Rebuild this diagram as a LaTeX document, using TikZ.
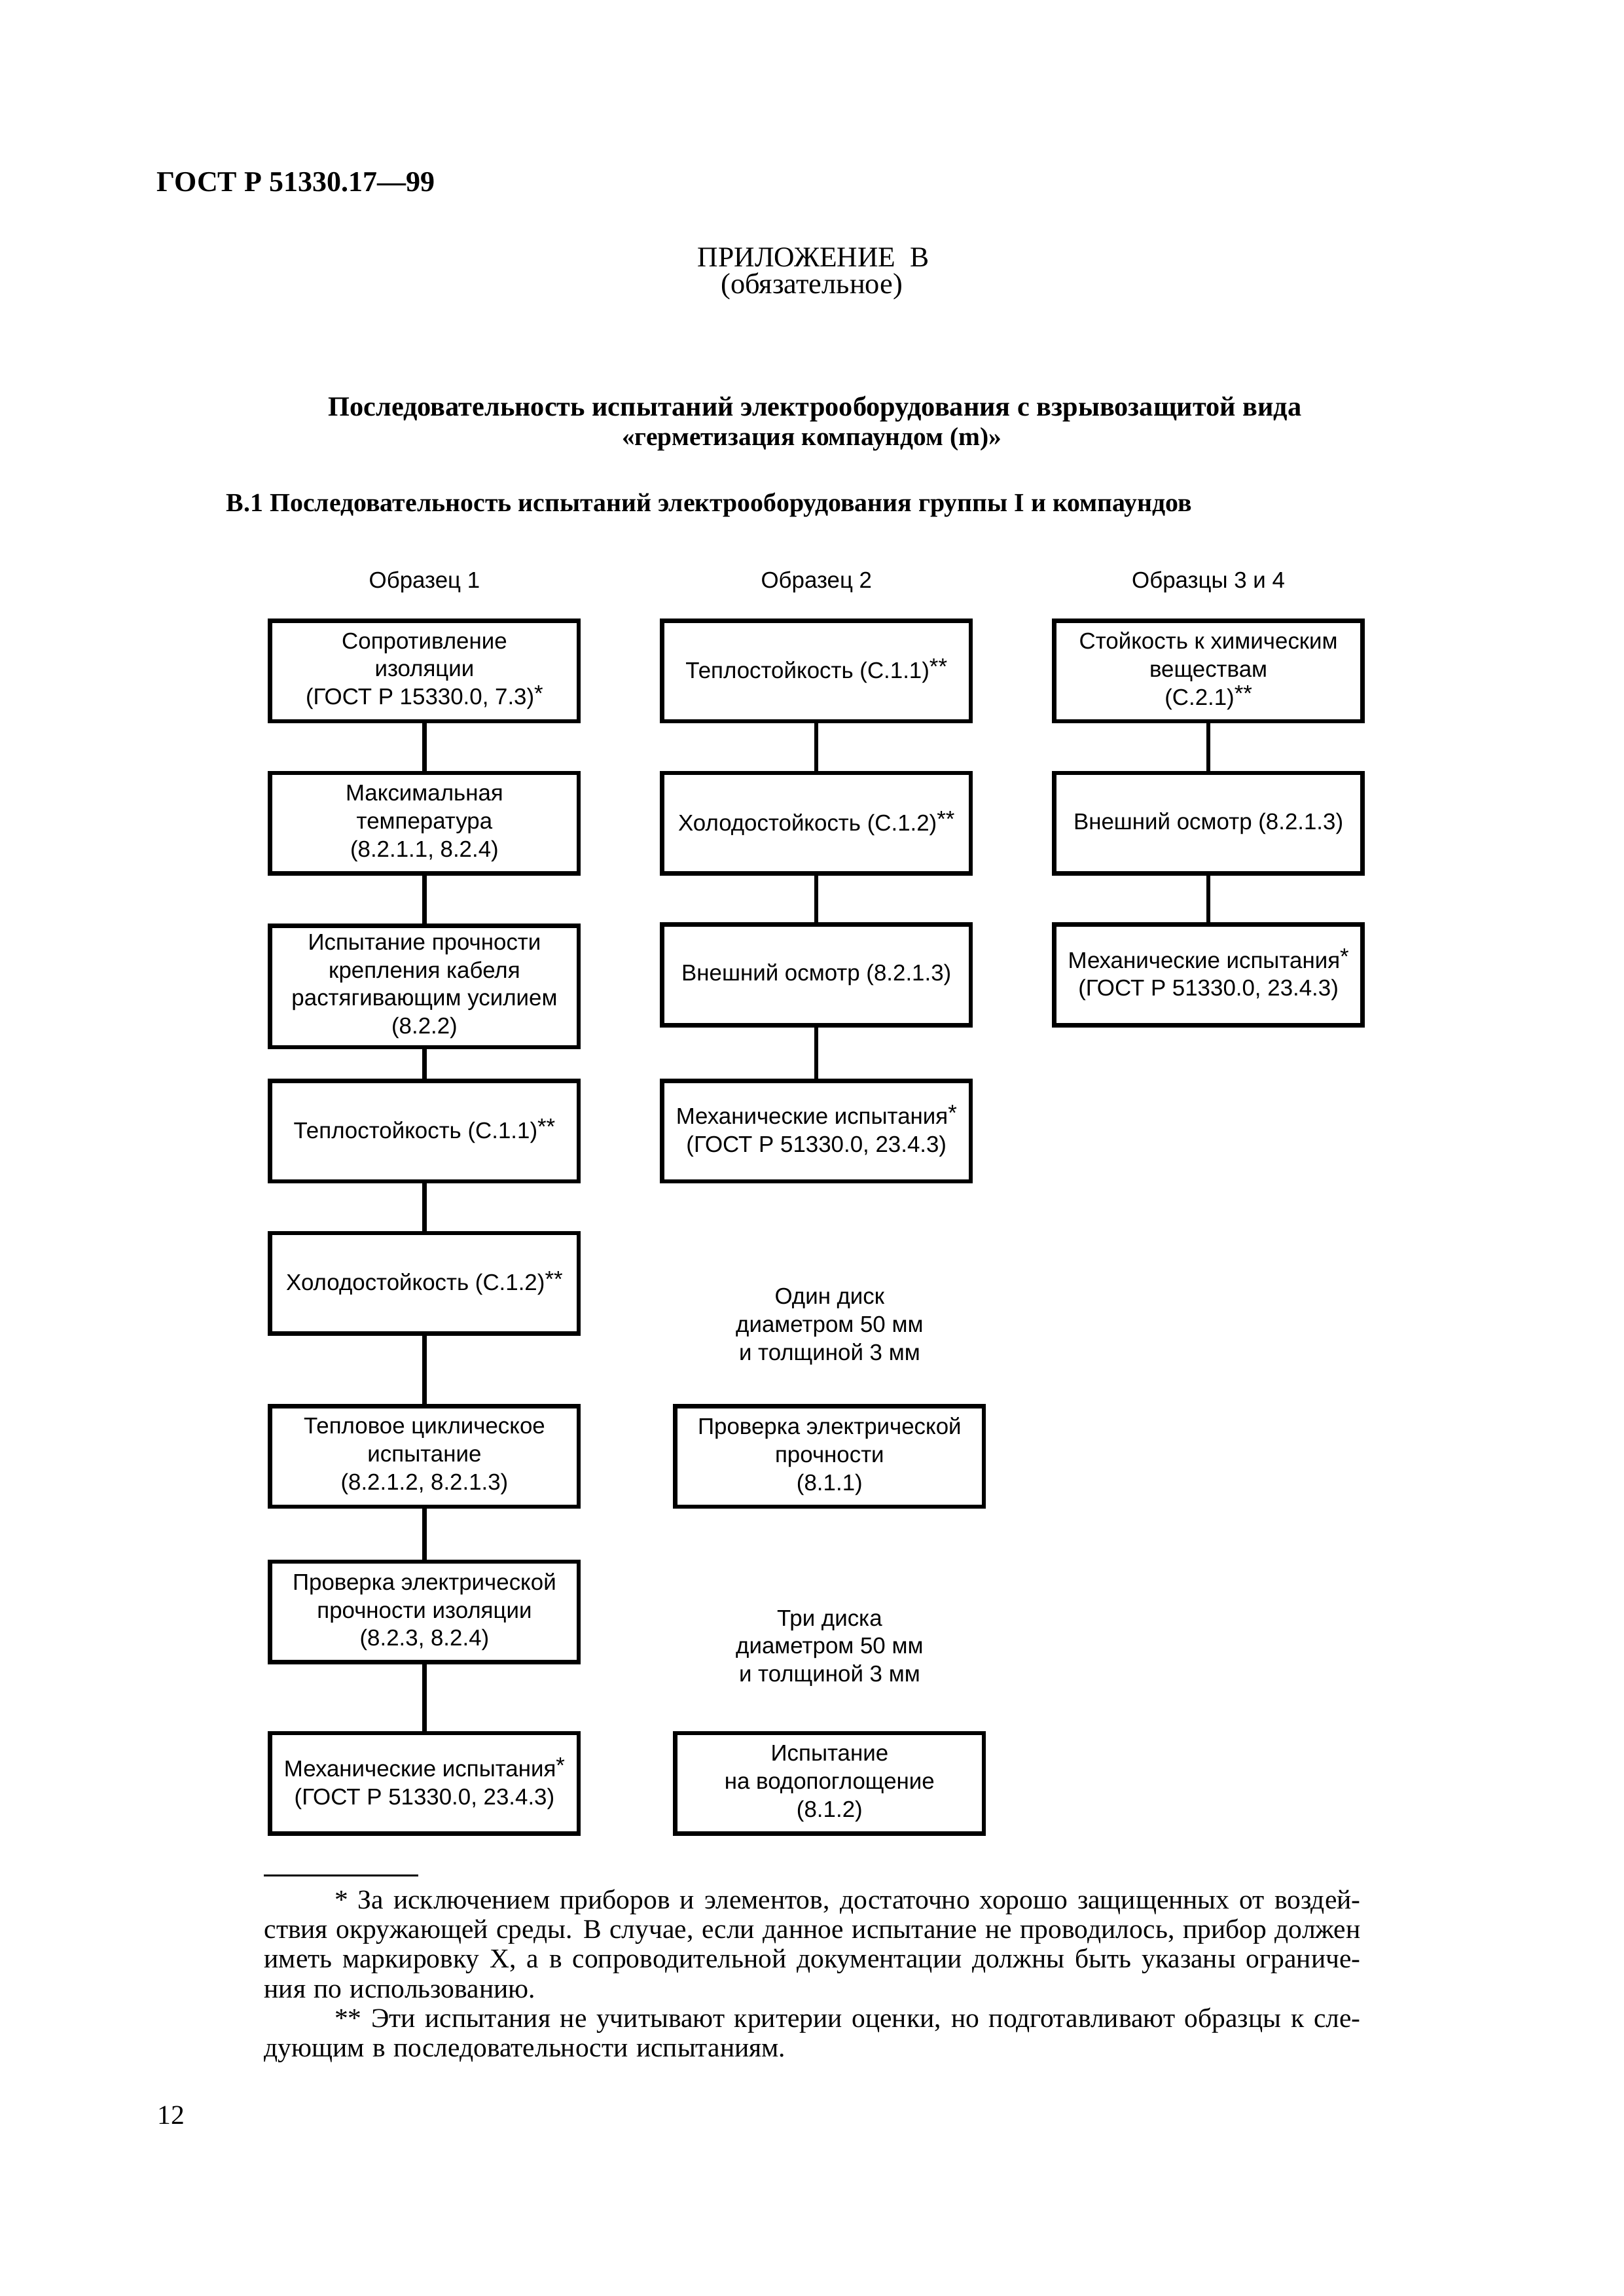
\documentclass[tikz,border=0pt]{standalone}
\usepackage{fontspec}
\setmainfont{Liberation Serif}
\newfontfamily\boxfont{Liberation Sans}
\usepackage{tikz}

\newcommand{\fnm}[1]{\raisebox{0.3ex}{#1}}

\tikzset{
  testbox/.style={draw, line width=1.6pt, minimum width=39.9mm, minimum height=13mm,
    align=center, inner sep=1pt, font=\boxfont\fontsize{8.4}{10.3}\selectfont},
  tallbox/.style={testbox, minimum height=15.7mm},
  link/.style={line width=1.5pt},
  colhead/.style={anchor=base, font=\boxfont\fontsize{8.4}{10.3}\selectfont},
  note/.style={align=center, font=\boxfont\fontsize{8.4}{10.3}\selectfont},
  pagetext/.style={inner sep=0pt}
}

\begin{document}
\begin{tikzpicture}[x=1mm, y=-1mm]
    \useasboundingbox (0,0) rectangle (210,297);
    % Page head
    \node[pagetext, anchor=base west, font=\bfseries\fontsize{10.6}{13}\selectfont] (gost) at (20.2,24.8) {ГОСТ Р 51330.17—99};
    \node[pagetext, anchor=base, font=\fontsize{10.5}{12}\selectfont] (appx) at (105.2,34.5) {ПРИЛОЖЕНИЕ\ \ В};
    \node[pagetext, anchor=base, font=\fontsize{10.7}{12}\selectfont] (oblig) at (105.0,38.0) {(обязательное)};
    \node[pagetext, anchor=base, font=\bfseries\fontsize{10.2}{12}\selectfont] (title) at (105.4,53.8)
      {Последовательность испытаний электрооборудования с взрывозащитой вида};
    \node[pagetext, anchor=base, font=\bfseries\fontsize{9.5}{12}\selectfont] (title2) at (105.0,57.6) {«герметизация компаундом (m)»};
    \node[pagetext, anchor=base west, font=\bfseries\fontsize{9.6}{12}\selectfont] (sect) at (29.2,66.2) {В.1 Последовательность испытаний электрооборудования группы I и компаундов};
    % Column heads
    \node[colhead] (h1) at (54.9,76.1) {Образец 1};
    \node[colhead] (h2) at (105.6,76.1) {Образец 2};
    \node[colhead] (h3) at (156.3,76.1) {Образцы 3 и 4};
    % Sample 1
    \node[testbox] (s1a) at (54.9,86.8) {Сопротивление\\изоляции\\(ГОСТ Р 15330.0, 7.3)\fnm{*}};
    \node[testbox] (s1b) at (54.9,106.5) {Максимальная\\температура\\(8.2.1.1, 8.2.4)};
    \node[tallbox] (s1c) at (54.9,127.6) {Испытание прочности\\крепления кабеля\\растягивающим усилием\\(8.2.2)};
    \node[testbox] (s1d) at (54.9,146.3) {Теплостойкость (С.1.1)\fnm{**}};
    \node[testbox] (s1e) at (54.9,166.0) {Холодостойкость (С.1.2)\fnm{**}};
    \node[testbox] (s1f) at (54.9,188.4) {Тепловое циклическое\\испытание\\(8.2.1.2, 8.2.1.3)};
    \node[testbox] (s1g) at (54.9,208.5) {Проверка электрической\\прочности изоляции\\(8.2.3, 8.2.4)};
    \node[testbox] (s1h) at (54.9,230.7) {Механические испытания\fnm{*}\\(ГОСТ Р 51330.0, 23.4.3)};
    % Sample 2
    \node[testbox] (s2a) at (105.6,86.8) {Теплостойкость (С.1.1)\fnm{**}};
    \node[testbox] (s2b) at (105.6,106.5) {Холодостойкость (С.1.2)\fnm{**}};
    \node[testbox] (s2c) at (105.6,126.1) {Внешний осмотр (8.2.1.3)};
    \node[testbox] (s2d) at (105.6,146.3) {Механические испытания\fnm{*}\\(ГОСТ Р 51330.0, 23.4.3)};
    % Discs
    \node[note] (disk1) at (107.3,171.6) {Один диск\\диаметром 50 мм\\и толщиной 3 мм};
    \node[testbox] (s2e) at (107.3,188.4) {Проверка электрической\\прочности\\(8.1.1)};
    \node[note] (disk3) at (107.3,213.2) {Три диска\\диаметром 50 мм\\и толщиной 3 мм};
    \node[testbox] (s2f) at (107.3,230.7) {Испытание\\на водопоглощение\\(8.1.2)};
    % Samples 3 and 4
    \node[testbox] (s3a) at (156.3,86.8) {Стойкость к химическим\\веществам\\(С.2.1)\fnm{**}};
    \node[testbox] (s3b) at (156.3,106.5) {Внешний осмотр (8.2.1.3)};
    \node[testbox] (s3c) at (156.3,126.1) {Механические испытания\fnm{*}\\(ГОСТ Р 51330.0, 23.4.3)};
    % Links
    \draw[link] (s1a) -- (s1b);
    \draw[link] (s1b) -- (s1c);
    \draw[link] (s1c) -- (s1d);
    \draw[link] (s1d) -- (s1e);
    \draw[link] (s1e) -- (s1f);
    \draw[link] (s1f) -- (s1g);
    \draw[link] (s1g) -- (s1h);
    \draw[link] (s2a) -- (s2b);
    \draw[link] (s2b) -- (s2c);
    \draw[link] (s2c) -- (s2d);
    \draw[link] (s3a) -- (s3b);
    \draw[link] (s3b) -- (s3c);
    % Footnotes
    \draw[line width=0.25mm] (34.1,242.6) -- (54.1,242.6);
    \node[anchor=base west, text width=141.8mm, align=justify, inner sep=0pt,
      font=\fontsize{10}{10.9}\selectfont] (notes) at (34.1,246.9)
      {\spaceskip=0.3em plus 0.3em minus 0.1em
      \hspace*{9.1mm}* За исключением приборов и элементов, достаточно хорошо защищенных от воздей-\linebreak
      ствия окружающей среды. В случае, если данное испытание не проводилось, прибор должен\linebreak
      иметь маркировку X, а в сопроводительной документации должны быть указаны ограниче-\linebreak
      ния по использованию.\par
      \hspace*{9.1mm}** Эти испытания не учитывают критерии оценки, но подготавливают образцы к сле-\linebreak
      дующим в последовательности испытаниям.};
    \node[pagetext, anchor=base west, font=\fontsize{10}{12}\selectfont] (pageno) at (20.3,274.8) {12};
\end{tikzpicture}
\end{document}
